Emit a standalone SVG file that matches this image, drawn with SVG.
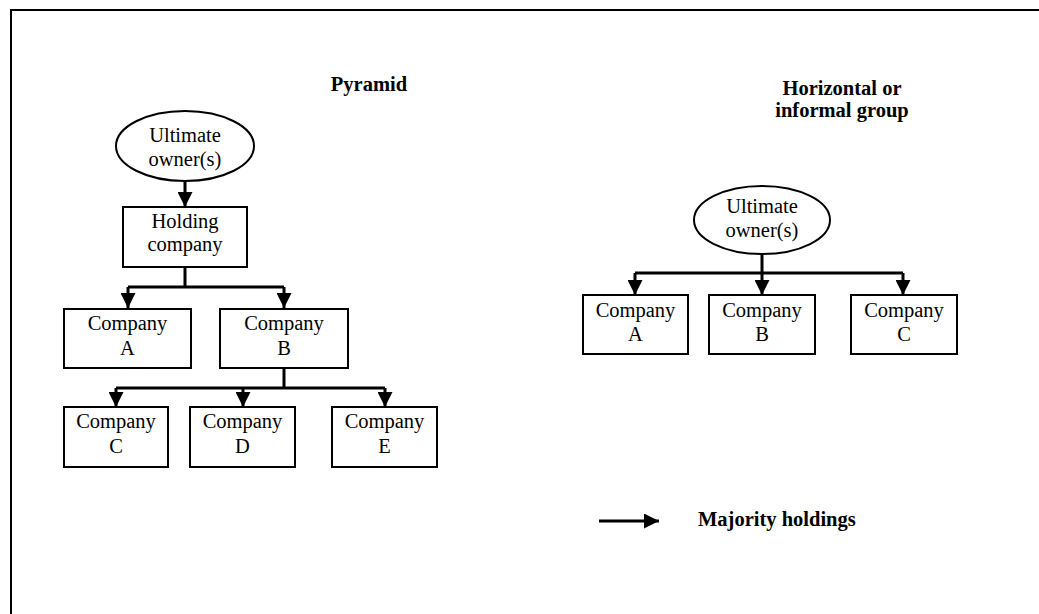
<svg xmlns="http://www.w3.org/2000/svg" width="1039" height="614" viewBox="0 0 1039 614">
<style>
.box{fill:#fff;stroke:#000;stroke-width:2}
.t{font-family:"Liberation Serif","Times New Roman",serif;font-size:20.5px;fill:#000;text-anchor:middle}
.b{font-weight:bold}
.c{fill:none;stroke:#000;stroke-width:3}
</style>
<defs>
<marker id="ah" markerUnits="userSpaceOnUse" markerWidth="16" markerHeight="15" refX="15" refY="7.5" orient="auto" viewBox="0 0 16 15">
<path d="M0,0 L15,7.5 L0,15 z" fill="#000"/>
</marker>
</defs>
<rect width="1039" height="614" fill="#fff"/>
<path d="M11,614 V10 H1039" fill="none" stroke="#000" stroke-width="2"/>

<text class="t b" x="369" y="91">Pyramid</text>
<text class="t b" x="842" y="95">Horizontal or</text>
<text class="t b" x="842" y="117">informal group</text>

<g id="connectors">
<path class="c" d="M185,181 V207" marker-end="url(#ah)"/>
<path class="c" d="M185,267 V287 M128,287 H284"/>
<path class="c" d="M128,287 V308" marker-end="url(#ah)"/>
<path class="c" d="M284,287 V308" marker-end="url(#ah)"/>
<path class="c" d="M284,368 V388 M116,388 H385"/>
<path class="c" d="M116,388 V407" marker-end="url(#ah)"/>
<path class="c" d="M243,388 V407" marker-end="url(#ah)"/>
<path class="c" d="M385,388 V407" marker-end="url(#ah)"/>
<path class="c" d="M762,253 V273 M635,273 H903"/>
<path class="c" d="M635,273 V295" marker-end="url(#ah)"/>
<path class="c" d="M762,273 V295" marker-end="url(#ah)"/>
<path class="c" d="M903,273 V295" marker-end="url(#ah)"/>
<path class="c" d="M599,521 H659" marker-end="url(#ah)"/>
</g>

<g id="p-owner">
<ellipse class="box" cx="185" cy="146" rx="69" ry="35"/>
<text class="t" x="185" y="142">Ultimate</text>
<text class="t" x="185" y="166">owner(s)</text>
</g>
<g id="p-holding">
<rect class="box" x="123" y="207" width="124" height="60"/>
<text class="t" x="185" y="228">Holding</text>
<text class="t" x="185" y="251">company</text>
</g>
<g id="p-a">
<rect class="box" x="64" y="309" width="127" height="59"/>
<text class="t" x="127.5" y="330">Company</text>
<text class="t" x="127.5" y="355">A</text>
</g>
<g id="p-b">
<rect class="box" x="220" y="309" width="128" height="59"/>
<text class="t" x="284" y="330">Company</text>
<text class="t" x="284" y="355">B</text>
</g>
<g id="p-c">
<rect class="box" x="64" y="407" width="104" height="60"/>
<text class="t" x="116" y="428">Company</text>
<text class="t" x="116" y="453">C</text>
</g>
<g id="p-d">
<rect class="box" x="190" y="407" width="105" height="60"/>
<text class="t" x="242.5" y="428">Company</text>
<text class="t" x="242.5" y="453">D</text>
</g>
<g id="p-e">
<rect class="box" x="332" y="407" width="105" height="60"/>
<text class="t" x="384.5" y="428">Company</text>
<text class="t" x="384.5" y="453">E</text>
</g>

<g id="h-owner">
<ellipse class="box" cx="762" cy="220" rx="68" ry="34"/>
<text class="t" x="762" y="213">Ultimate</text>
<text class="t" x="762" y="237">owner(s)</text>
</g>
<g id="h-a">
<rect class="box" x="583" y="295" width="105" height="59"/>
<text class="t" x="635.5" y="317">Company</text>
<text class="t" x="635.5" y="341">A</text>
</g>
<g id="h-b">
<rect class="box" x="709" y="295" width="106" height="59"/>
<text class="t" x="762" y="317">Company</text>
<text class="t" x="762" y="341">B</text>
</g>
<g id="h-c">
<rect class="box" x="851" y="295" width="106" height="59"/>
<text class="t" x="904" y="317">Company</text>
<text class="t" x="904" y="341">C</text>
</g>

<g id="legend">
<text class="t b" x="698" y="526" style="text-anchor:start">Majority holdings</text>
</g>
</svg>
